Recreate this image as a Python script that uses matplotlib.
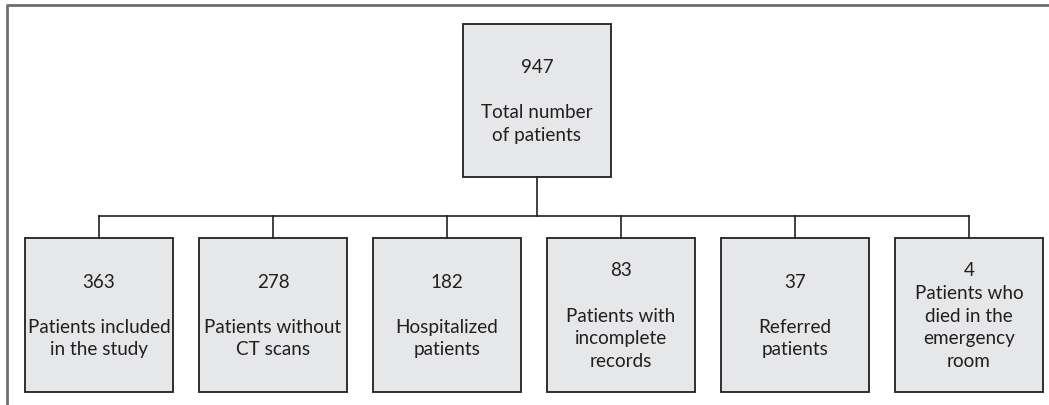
import matplotlib
matplotlib.use("Agg")
import matplotlib.pyplot as plt
from matplotlib.patches import Rectangle

# flowchart data
total_count = 947
total_label = "Total number\nof patients"
counts = [363, 278, 182, 83, 37, 4]
labels = [
    "Patients included\nin the study",
    "Patients without\nCT scans",
    "Hospitalized\npatients",
    "Patients with\nincomplete\nrecords",
    "Referred\npatients",
    "Patients who\ndied in the\nemergency\nroom",
]
# the last box has no blank line between number and text
blank_line = [True, True, True, True, True, False]

W, H = 1049, 405
FILL = "#e6e7e8"
EDGE = "#231f20"
FONT = "Lato"


def draw_box(ax, x0, y0, w, h, text):
    ax.add_patch(Rectangle((x0, y0), w, h, facecolor=FILL, edgecolor=EDGE, lw=1.3))
    ax.text(x0 + w / 2., y0 + h / 2. + 1, text, ha="center", va="center",
            fontsize=13.6, family=FONT, color="#231f20", linespacing=1.4)


fig = plt.figure(figsize=(W / 100., H / 100.), dpi=100)
ax = fig.add_axes([0, 0, 1, 1])
ax.set_xlim(0, W)
ax.set_ylim(H, 0)
ax.axis("off")

# frame (top and left only)
ax.plot([7, 7, W], [H, 5, 5], color="#6d6e71", lw=2, solid_capstyle="butt")

# top box
top_x, top_y, top_w, top_h = 463, 24, 148, 153
draw_box(ax, top_x, top_y, top_w, top_h, "%d\n\n%s" % (total_count, total_label))

# bottom boxes
bx0, bw, pitch, by, bh = 25, 148, 174, 238, 154
hline_y = 216
centers = [bx0 + i * pitch + bw / 2. for i in range(len(counts))]
ax.plot([top_x + top_w / 2.] * 2, [top_y + top_h, hline_y], color=EDGE, lw=1.2)
ax.plot([centers[0], centers[-1]], [hline_y, hline_y], color=EDGE, lw=1.2)
for i, (c, lab) in enumerate(zip(counts, labels)):
    ax.plot([centers[i]] * 2, [hline_y, by], color=EDGE, lw=1.2)
    sep = "\n\n" if blank_line[i] else "\n"
    draw_box(ax, bx0 + i * pitch, by, bw, bh, "%d%s%s" % (c, sep, lab))

fig.savefig("out.png", dpi=100)
